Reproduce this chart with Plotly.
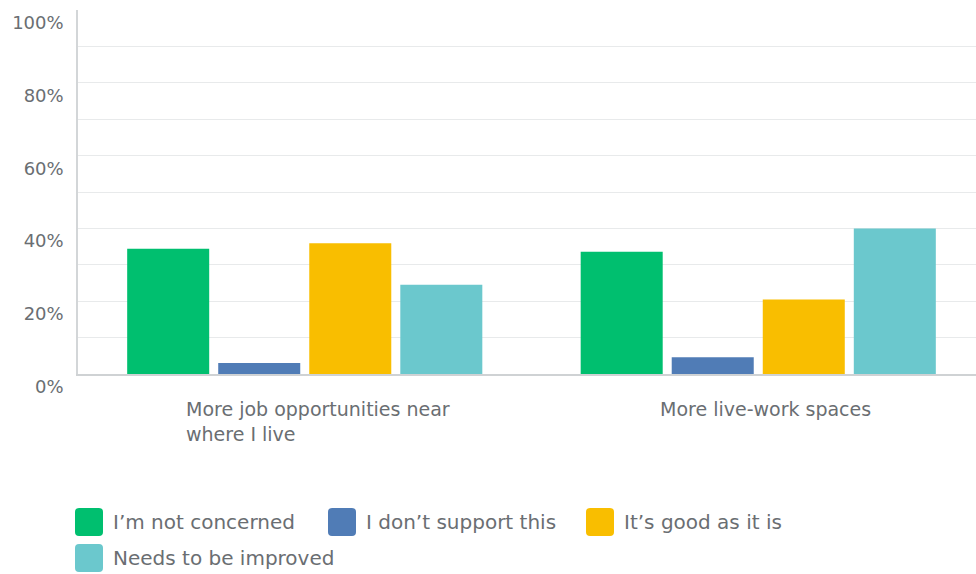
import plotly.graph_objects as go

categories = ["More job opportunities near<br>where I live", "More live-work spaces"]
series_names = ["I\u2019m not concerned", "I don\u2019t support this", "It\u2019s good as it is", "Needs to be improved"]
not_concerned = [34.4, 33.6]
dont_support = [3.0, 4.6]
good_as_is = [35.9, 20.5]
needs_improved = [24.5, 40.0]
colors = ["#00BF6F", "#507CB6", "#F9BE00", "#6BC8CD"]
y_tick_vals = [0, 20, 40, 60, 80, 100]
y_tick_text = ["0%", "20%", "40%", "60%", "80%", "100%"]

values = [not_concerned, dont_support, good_as_is, needs_improved]
FONT = "DejaVu Sans"
TXT = "#6a6e72"

W, H = 976, 574
ML, MR, MT, MB = 78, 0, 10, 200
PW, PH = W - ML - MR, H - MT - MB

fig = go.Figure()
xs = list(range(len(categories)))
for name, vals, col in zip(series_names, values, colors):
    fig.add_trace(go.Bar(x=xs, y=vals, name=name, marker=dict(color=col, line=dict(width=0)),
                         showlegend=False, hoverinfo="y+name"))

# category labels (left-aligned multi-line)
label_shifts = [13, 7]
annotations = []
for i, cat in enumerate(categories):
    annotations.append(dict(x=i, xref="x", y=0, yref="paper", yanchor="top", yshift=-22,
                            xanchor="center", xshift=label_shifts[i], align="left", showarrow=False,
                            text=cat, font=dict(family=FONT, size=19, color=TXT)))

def px2paper(px, py):
    return (px - ML) / PW, (H - MB - py) / PH

def rounded(px, py, s, r):
    x0, y0 = px, py
    x1, y1 = px + s, py + s
    def P(a, b):
        xx, yy = px2paper(a, b)
        return f"{xx:.5f},{yy:.5f}"
    path = (f"M {P(x0 + r, y0)} L {P(x1 - r, y0)} Q {P(x1, y0)} {P(x1, y0 + r)} "
            f"L {P(x1, y1 - r)} Q {P(x1, y1)} {P(x1 - r, y1)} L {P(x0 + r, y1)} "
            f"Q {P(x0, y1)} {P(x0, y1 - r)} L {P(x0, y0 + r)} Q {P(x0, y0)} {P(x0 + r, y0)} Z")
    return path

legend_pos = [(75, 508), (328, 508), (586, 508), (75, 544)]
shapes = []
SQ = 28
for (lx, ly), name, col in zip(legend_pos, series_names, colors):
    shapes.append(dict(type="path", xref="paper", yref="paper", path=rounded(lx, ly, SQ, 4),
                       fillcolor=col, line=dict(width=0)))
    tx, ty = px2paper(lx + SQ + 8, ly + SQ / 2)
    annotations.append(dict(x=tx, y=ty, xref="paper", yref="paper", xanchor="left", yanchor="middle",
                            text=name, showarrow=False, font=dict(family=FONT, size=20, color=TXT)))

fig.update_layout(
    width=W, height=H,
    margin=dict(l=ML, r=MR, t=MT, b=MB),
    paper_bgcolor="white", plot_bgcolor="white",
    barmode="group", bargap=0.197, bargroupgap=0.099,
    showlegend=False,
    font=dict(family=FONT, color=TXT),
    xaxis=dict(range=[-0.5, -0.5 + PW / 453.5], tickvals=xs, showticklabels=False,
               showgrid=False, zeroline=False, showline=True, linecolor="#cfd2d4", linewidth=1.5,
               ticks="", fixedrange=True),
    yaxis=dict(range=[0, 100], tickvals=y_tick_vals, ticktext=y_tick_text,
               ticklabelposition="outside bottom", ticklabelstandoff=9,
               tickfont=dict(family=FONT, size=18, color=TXT),
               showgrid=True, gridcolor="#e8eaeb", gridwidth=1,
               minor=dict(dtick=10, showgrid=True, gridcolor="#e8eaeb", gridwidth=1),
               zeroline=False, showline=True, linecolor="#d3d6d8", linewidth=1.5, ticks="",
               fixedrange=True),
    annotations=annotations, shapes=shapes,
)
fig.write_html("out.html", config={"displayModeBar": False},
               post_script="document.body.style.margin='0';document.body.style.overflow='hidden';")
